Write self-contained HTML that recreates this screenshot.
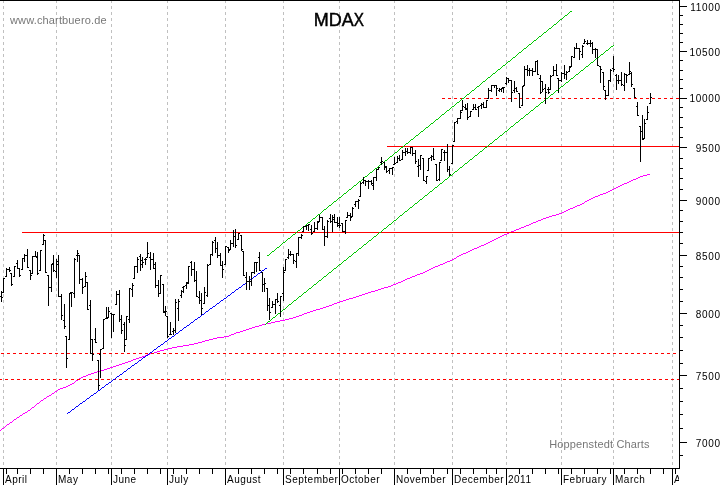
<!DOCTYPE html>
<html><head><meta charset="utf-8"><title>MDAX</title>
<style>
html,body{margin:0;padding:0;background:#fff;}
body{width:723px;height:485px;overflow:hidden;}
svg{display:block;will-change:transform;}
.ax{font-family:"Liberation Sans",Arial,sans-serif;font-size:10px;fill:#000;letter-spacing:0.7px;}
.mo{letter-spacing:0.5px;}
.gr{font-family:"Liberation Sans",Arial,sans-serif;font-size:11px;fill:#777;letter-spacing:0.15px;}
.ti{font-family:"Liberation Sans",Arial,sans-serif;font-size:18px;fill:#000;stroke:#000;stroke-width:0.45px;}
</style></head><body>
<svg width="723" height="485" viewBox="0 0 723 485">
<defs><clipPath id="cx"><rect x="0" y="0" width="679" height="485"/></clipPath></defs>
<rect x="0" y="0" width="723" height="485" fill="#fff"/>
<g shape-rendering="crispEdges">
<path d="M3 0h1v3h-1z M3 6h1v3h-1z M3 12h1v3h-1z M3 18h1v3h-1z M3 24h1v3h-1z M3 30h1v3h-1z M3 36h1v3h-1z M3 42h1v3h-1z M3 48h1v3h-1z M3 54h1v3h-1z M3 60h1v3h-1z M3 66h1v3h-1z M3 72h1v3h-1z M3 78h1v3h-1z M3 84h1v3h-1z M3 90h1v3h-1z M3 96h1v3h-1z M3 102h1v3h-1z M3 108h1v3h-1z M3 114h1v3h-1z M3 120h1v3h-1z M3 126h1v3h-1z M3 132h1v3h-1z M3 138h1v3h-1z M3 144h1v3h-1z M3 150h1v3h-1z M3 156h1v3h-1z M3 162h1v3h-1z M3 168h1v3h-1z M3 174h1v3h-1z M3 180h1v3h-1z M3 186h1v3h-1z M3 192h1v3h-1z M3 198h1v3h-1z M3 204h1v3h-1z M3 210h1v3h-1z M3 216h1v3h-1z M3 222h1v3h-1z M3 228h1v3h-1z M3 234h1v3h-1z M3 240h1v3h-1z M3 246h1v3h-1z M3 252h1v3h-1z M3 258h1v3h-1z M3 264h1v3h-1z M3 270h1v3h-1z M3 276h1v3h-1z M3 282h1v3h-1z M3 288h1v3h-1z M3 294h1v3h-1z M3 300h1v3h-1z M3 306h1v3h-1z M3 312h1v3h-1z M3 318h1v3h-1z M3 324h1v3h-1z M3 330h1v3h-1z M3 336h1v3h-1z M3 342h1v3h-1z M3 348h1v3h-1z M3 354h1v3h-1z M3 360h1v3h-1z M3 366h1v3h-1z M3 372h1v3h-1z M3 378h1v3h-1z M3 384h1v3h-1z M3 390h1v3h-1z M3 396h1v3h-1z M3 402h1v3h-1z M3 408h1v3h-1z M3 414h1v3h-1z M3 420h1v3h-1z M3 426h1v3h-1z M3 432h1v3h-1z M3 438h1v3h-1z M3 444h1v3h-1z M3 450h1v3h-1z M3 456h1v3h-1z M3 462h1v3h-1z" fill="#c0c0c0"/>
<path d="M56 0h1v3h-1z M56 6h1v3h-1z M56 12h1v3h-1z M56 18h1v3h-1z M56 24h1v3h-1z M56 30h1v3h-1z M56 36h1v3h-1z M56 42h1v3h-1z M56 48h1v3h-1z M56 54h1v3h-1z M56 60h1v3h-1z M56 66h1v3h-1z M56 72h1v3h-1z M56 78h1v3h-1z M56 84h1v3h-1z M56 90h1v3h-1z M56 96h1v3h-1z M56 102h1v3h-1z M56 108h1v3h-1z M56 114h1v3h-1z M56 120h1v3h-1z M56 126h1v3h-1z M56 132h1v3h-1z M56 138h1v3h-1z M56 144h1v3h-1z M56 150h1v3h-1z M56 156h1v3h-1z M56 162h1v3h-1z M56 168h1v3h-1z M56 174h1v3h-1z M56 180h1v3h-1z M56 186h1v3h-1z M56 192h1v3h-1z M56 198h1v3h-1z M56 204h1v3h-1z M56 210h1v3h-1z M56 216h1v3h-1z M56 222h1v3h-1z M56 228h1v3h-1z M56 234h1v3h-1z M56 240h1v3h-1z M56 246h1v3h-1z M56 252h1v3h-1z M56 258h1v3h-1z M56 264h1v3h-1z M56 270h1v3h-1z M56 276h1v3h-1z M56 282h1v3h-1z M56 288h1v3h-1z M56 294h1v3h-1z M56 300h1v3h-1z M56 306h1v3h-1z M56 312h1v3h-1z M56 318h1v3h-1z M56 324h1v3h-1z M56 330h1v3h-1z M56 336h1v3h-1z M56 342h1v3h-1z M56 348h1v3h-1z M56 354h1v3h-1z M56 360h1v3h-1z M56 366h1v3h-1z M56 372h1v3h-1z M56 378h1v3h-1z M56 384h1v3h-1z M56 390h1v3h-1z M56 396h1v3h-1z M56 402h1v3h-1z M56 408h1v3h-1z M56 414h1v3h-1z M56 420h1v3h-1z M56 426h1v3h-1z M56 432h1v3h-1z M56 438h1v3h-1z M56 444h1v3h-1z M56 450h1v3h-1z M56 456h1v3h-1z M56 462h1v3h-1z" fill="#c0c0c0"/>
<path d="M111 0h1v3h-1z M111 6h1v3h-1z M111 12h1v3h-1z M111 18h1v3h-1z M111 24h1v3h-1z M111 30h1v3h-1z M111 36h1v3h-1z M111 42h1v3h-1z M111 48h1v3h-1z M111 54h1v3h-1z M111 60h1v3h-1z M111 66h1v3h-1z M111 72h1v3h-1z M111 78h1v3h-1z M111 84h1v3h-1z M111 90h1v3h-1z M111 96h1v3h-1z M111 102h1v3h-1z M111 108h1v3h-1z M111 114h1v3h-1z M111 120h1v3h-1z M111 126h1v3h-1z M111 132h1v3h-1z M111 138h1v3h-1z M111 144h1v3h-1z M111 150h1v3h-1z M111 156h1v3h-1z M111 162h1v3h-1z M111 168h1v3h-1z M111 174h1v3h-1z M111 180h1v3h-1z M111 186h1v3h-1z M111 192h1v3h-1z M111 198h1v3h-1z M111 204h1v3h-1z M111 210h1v3h-1z M111 216h1v3h-1z M111 222h1v3h-1z M111 228h1v3h-1z M111 234h1v3h-1z M111 240h1v3h-1z M111 246h1v3h-1z M111 252h1v3h-1z M111 258h1v3h-1z M111 264h1v3h-1z M111 270h1v3h-1z M111 276h1v3h-1z M111 282h1v3h-1z M111 288h1v3h-1z M111 294h1v3h-1z M111 300h1v3h-1z M111 306h1v3h-1z M111 312h1v3h-1z M111 318h1v3h-1z M111 324h1v3h-1z M111 330h1v3h-1z M111 336h1v3h-1z M111 342h1v3h-1z M111 348h1v3h-1z M111 354h1v3h-1z M111 360h1v3h-1z M111 366h1v3h-1z M111 372h1v3h-1z M111 378h1v3h-1z M111 384h1v3h-1z M111 390h1v3h-1z M111 396h1v3h-1z M111 402h1v3h-1z M111 408h1v3h-1z M111 414h1v3h-1z M111 420h1v3h-1z M111 426h1v3h-1z M111 432h1v3h-1z M111 438h1v3h-1z M111 444h1v3h-1z M111 450h1v3h-1z M111 456h1v3h-1z M111 462h1v3h-1z" fill="#c0c0c0"/>
<path d="M167 0h1v3h-1z M167 6h1v3h-1z M167 12h1v3h-1z M167 18h1v3h-1z M167 24h1v3h-1z M167 30h1v3h-1z M167 36h1v3h-1z M167 42h1v3h-1z M167 48h1v3h-1z M167 54h1v3h-1z M167 60h1v3h-1z M167 66h1v3h-1z M167 72h1v3h-1z M167 78h1v3h-1z M167 84h1v3h-1z M167 90h1v3h-1z M167 96h1v3h-1z M167 102h1v3h-1z M167 108h1v3h-1z M167 114h1v3h-1z M167 120h1v3h-1z M167 126h1v3h-1z M167 132h1v3h-1z M167 138h1v3h-1z M167 144h1v3h-1z M167 150h1v3h-1z M167 156h1v3h-1z M167 162h1v3h-1z M167 168h1v3h-1z M167 174h1v3h-1z M167 180h1v3h-1z M167 186h1v3h-1z M167 192h1v3h-1z M167 198h1v3h-1z M167 204h1v3h-1z M167 210h1v3h-1z M167 216h1v3h-1z M167 222h1v3h-1z M167 228h1v3h-1z M167 234h1v3h-1z M167 240h1v3h-1z M167 246h1v3h-1z M167 252h1v3h-1z M167 258h1v3h-1z M167 264h1v3h-1z M167 270h1v3h-1z M167 276h1v3h-1z M167 282h1v3h-1z M167 288h1v3h-1z M167 294h1v3h-1z M167 300h1v3h-1z M167 306h1v3h-1z M167 312h1v3h-1z M167 318h1v3h-1z M167 324h1v3h-1z M167 330h1v3h-1z M167 336h1v3h-1z M167 342h1v3h-1z M167 348h1v3h-1z M167 354h1v3h-1z M167 360h1v3h-1z M167 366h1v3h-1z M167 372h1v3h-1z M167 378h1v3h-1z M167 384h1v3h-1z M167 390h1v3h-1z M167 396h1v3h-1z M167 402h1v3h-1z M167 408h1v3h-1z M167 414h1v3h-1z M167 420h1v3h-1z M167 426h1v3h-1z M167 432h1v3h-1z M167 438h1v3h-1z M167 444h1v3h-1z M167 450h1v3h-1z M167 456h1v3h-1z M167 462h1v3h-1z" fill="#c0c0c0"/>
<path d="M225 0h1v3h-1z M225 6h1v3h-1z M225 12h1v3h-1z M225 18h1v3h-1z M225 24h1v3h-1z M225 30h1v3h-1z M225 36h1v3h-1z M225 42h1v3h-1z M225 48h1v3h-1z M225 54h1v3h-1z M225 60h1v3h-1z M225 66h1v3h-1z M225 72h1v3h-1z M225 78h1v3h-1z M225 84h1v3h-1z M225 90h1v3h-1z M225 96h1v3h-1z M225 102h1v3h-1z M225 108h1v3h-1z M225 114h1v3h-1z M225 120h1v3h-1z M225 126h1v3h-1z M225 132h1v3h-1z M225 138h1v3h-1z M225 144h1v3h-1z M225 150h1v3h-1z M225 156h1v3h-1z M225 162h1v3h-1z M225 168h1v3h-1z M225 174h1v3h-1z M225 180h1v3h-1z M225 186h1v3h-1z M225 192h1v3h-1z M225 198h1v3h-1z M225 204h1v3h-1z M225 210h1v3h-1z M225 216h1v3h-1z M225 222h1v3h-1z M225 228h1v3h-1z M225 234h1v3h-1z M225 240h1v3h-1z M225 246h1v3h-1z M225 252h1v3h-1z M225 258h1v3h-1z M225 264h1v3h-1z M225 270h1v3h-1z M225 276h1v3h-1z M225 282h1v3h-1z M225 288h1v3h-1z M225 294h1v3h-1z M225 300h1v3h-1z M225 306h1v3h-1z M225 312h1v3h-1z M225 318h1v3h-1z M225 324h1v3h-1z M225 330h1v3h-1z M225 336h1v3h-1z M225 342h1v3h-1z M225 348h1v3h-1z M225 354h1v3h-1z M225 360h1v3h-1z M225 366h1v3h-1z M225 372h1v3h-1z M225 378h1v3h-1z M225 384h1v3h-1z M225 390h1v3h-1z M225 396h1v3h-1z M225 402h1v3h-1z M225 408h1v3h-1z M225 414h1v3h-1z M225 420h1v3h-1z M225 426h1v3h-1z M225 432h1v3h-1z M225 438h1v3h-1z M225 444h1v3h-1z M225 450h1v3h-1z M225 456h1v3h-1z M225 462h1v3h-1z" fill="#c0c0c0"/>
<path d="M283 0h1v3h-1z M283 6h1v3h-1z M283 12h1v3h-1z M283 18h1v3h-1z M283 24h1v3h-1z M283 30h1v3h-1z M283 36h1v3h-1z M283 42h1v3h-1z M283 48h1v3h-1z M283 54h1v3h-1z M283 60h1v3h-1z M283 66h1v3h-1z M283 72h1v3h-1z M283 78h1v3h-1z M283 84h1v3h-1z M283 90h1v3h-1z M283 96h1v3h-1z M283 102h1v3h-1z M283 108h1v3h-1z M283 114h1v3h-1z M283 120h1v3h-1z M283 126h1v3h-1z M283 132h1v3h-1z M283 138h1v3h-1z M283 144h1v3h-1z M283 150h1v3h-1z M283 156h1v3h-1z M283 162h1v3h-1z M283 168h1v3h-1z M283 174h1v3h-1z M283 180h1v3h-1z M283 186h1v3h-1z M283 192h1v3h-1z M283 198h1v3h-1z M283 204h1v3h-1z M283 210h1v3h-1z M283 216h1v3h-1z M283 222h1v3h-1z M283 228h1v3h-1z M283 234h1v3h-1z M283 240h1v3h-1z M283 246h1v3h-1z M283 252h1v3h-1z M283 258h1v3h-1z M283 264h1v3h-1z M283 270h1v3h-1z M283 276h1v3h-1z M283 282h1v3h-1z M283 288h1v3h-1z M283 294h1v3h-1z M283 300h1v3h-1z M283 306h1v3h-1z M283 312h1v3h-1z M283 318h1v3h-1z M283 324h1v3h-1z M283 330h1v3h-1z M283 336h1v3h-1z M283 342h1v3h-1z M283 348h1v3h-1z M283 354h1v3h-1z M283 360h1v3h-1z M283 366h1v3h-1z M283 372h1v3h-1z M283 378h1v3h-1z M283 384h1v3h-1z M283 390h1v3h-1z M283 396h1v3h-1z M283 402h1v3h-1z M283 408h1v3h-1z M283 414h1v3h-1z M283 420h1v3h-1z M283 426h1v3h-1z M283 432h1v3h-1z M283 438h1v3h-1z M283 444h1v3h-1z M283 450h1v3h-1z M283 456h1v3h-1z M283 462h1v3h-1z" fill="#c0c0c0"/>
<path d="M339 0h1v3h-1z M339 6h1v3h-1z M339 12h1v3h-1z M339 18h1v3h-1z M339 24h1v3h-1z M339 30h1v3h-1z M339 36h1v3h-1z M339 42h1v3h-1z M339 48h1v3h-1z M339 54h1v3h-1z M339 60h1v3h-1z M339 66h1v3h-1z M339 72h1v3h-1z M339 78h1v3h-1z M339 84h1v3h-1z M339 90h1v3h-1z M339 96h1v3h-1z M339 102h1v3h-1z M339 108h1v3h-1z M339 114h1v3h-1z M339 120h1v3h-1z M339 126h1v3h-1z M339 132h1v3h-1z M339 138h1v3h-1z M339 144h1v3h-1z M339 150h1v3h-1z M339 156h1v3h-1z M339 162h1v3h-1z M339 168h1v3h-1z M339 174h1v3h-1z M339 180h1v3h-1z M339 186h1v3h-1z M339 192h1v3h-1z M339 198h1v3h-1z M339 204h1v3h-1z M339 210h1v3h-1z M339 216h1v3h-1z M339 222h1v3h-1z M339 228h1v3h-1z M339 234h1v3h-1z M339 240h1v3h-1z M339 246h1v3h-1z M339 252h1v3h-1z M339 258h1v3h-1z M339 264h1v3h-1z M339 270h1v3h-1z M339 276h1v3h-1z M339 282h1v3h-1z M339 288h1v3h-1z M339 294h1v3h-1z M339 300h1v3h-1z M339 306h1v3h-1z M339 312h1v3h-1z M339 318h1v3h-1z M339 324h1v3h-1z M339 330h1v3h-1z M339 336h1v3h-1z M339 342h1v3h-1z M339 348h1v3h-1z M339 354h1v3h-1z M339 360h1v3h-1z M339 366h1v3h-1z M339 372h1v3h-1z M339 378h1v3h-1z M339 384h1v3h-1z M339 390h1v3h-1z M339 396h1v3h-1z M339 402h1v3h-1z M339 408h1v3h-1z M339 414h1v3h-1z M339 420h1v3h-1z M339 426h1v3h-1z M339 432h1v3h-1z M339 438h1v3h-1z M339 444h1v3h-1z M339 450h1v3h-1z M339 456h1v3h-1z M339 462h1v3h-1z" fill="#c0c0c0"/>
<path d="M394 0h1v3h-1z M394 6h1v3h-1z M394 12h1v3h-1z M394 18h1v3h-1z M394 24h1v3h-1z M394 30h1v3h-1z M394 36h1v3h-1z M394 42h1v3h-1z M394 48h1v3h-1z M394 54h1v3h-1z M394 60h1v3h-1z M394 66h1v3h-1z M394 72h1v3h-1z M394 78h1v3h-1z M394 84h1v3h-1z M394 90h1v3h-1z M394 96h1v3h-1z M394 102h1v3h-1z M394 108h1v3h-1z M394 114h1v3h-1z M394 120h1v3h-1z M394 126h1v3h-1z M394 132h1v3h-1z M394 138h1v3h-1z M394 144h1v3h-1z M394 150h1v3h-1z M394 156h1v3h-1z M394 162h1v3h-1z M394 168h1v3h-1z M394 174h1v3h-1z M394 180h1v3h-1z M394 186h1v3h-1z M394 192h1v3h-1z M394 198h1v3h-1z M394 204h1v3h-1z M394 210h1v3h-1z M394 216h1v3h-1z M394 222h1v3h-1z M394 228h1v3h-1z M394 234h1v3h-1z M394 240h1v3h-1z M394 246h1v3h-1z M394 252h1v3h-1z M394 258h1v3h-1z M394 264h1v3h-1z M394 270h1v3h-1z M394 276h1v3h-1z M394 282h1v3h-1z M394 288h1v3h-1z M394 294h1v3h-1z M394 300h1v3h-1z M394 306h1v3h-1z M394 312h1v3h-1z M394 318h1v3h-1z M394 324h1v3h-1z M394 330h1v3h-1z M394 336h1v3h-1z M394 342h1v3h-1z M394 348h1v3h-1z M394 354h1v3h-1z M394 360h1v3h-1z M394 366h1v3h-1z M394 372h1v3h-1z M394 378h1v3h-1z M394 384h1v3h-1z M394 390h1v3h-1z M394 396h1v3h-1z M394 402h1v3h-1z M394 408h1v3h-1z M394 414h1v3h-1z M394 420h1v3h-1z M394 426h1v3h-1z M394 432h1v3h-1z M394 438h1v3h-1z M394 444h1v3h-1z M394 450h1v3h-1z M394 456h1v3h-1z M394 462h1v3h-1z" fill="#c0c0c0"/>
<path d="M452 0h1v3h-1z M452 6h1v3h-1z M452 12h1v3h-1z M452 18h1v3h-1z M452 24h1v3h-1z M452 30h1v3h-1z M452 36h1v3h-1z M452 42h1v3h-1z M452 48h1v3h-1z M452 54h1v3h-1z M452 60h1v3h-1z M452 66h1v3h-1z M452 72h1v3h-1z M452 78h1v3h-1z M452 84h1v3h-1z M452 90h1v3h-1z M452 96h1v3h-1z M452 102h1v3h-1z M452 108h1v3h-1z M452 114h1v3h-1z M452 120h1v3h-1z M452 126h1v3h-1z M452 132h1v3h-1z M452 138h1v3h-1z M452 144h1v3h-1z M452 150h1v3h-1z M452 156h1v3h-1z M452 162h1v3h-1z M452 168h1v3h-1z M452 174h1v3h-1z M452 180h1v3h-1z M452 186h1v3h-1z M452 192h1v3h-1z M452 198h1v3h-1z M452 204h1v3h-1z M452 210h1v3h-1z M452 216h1v3h-1z M452 222h1v3h-1z M452 228h1v3h-1z M452 234h1v3h-1z M452 240h1v3h-1z M452 246h1v3h-1z M452 252h1v3h-1z M452 258h1v3h-1z M452 264h1v3h-1z M452 270h1v3h-1z M452 276h1v3h-1z M452 282h1v3h-1z M452 288h1v3h-1z M452 294h1v3h-1z M452 300h1v3h-1z M452 306h1v3h-1z M452 312h1v3h-1z M452 318h1v3h-1z M452 324h1v3h-1z M452 330h1v3h-1z M452 336h1v3h-1z M452 342h1v3h-1z M452 348h1v3h-1z M452 354h1v3h-1z M452 360h1v3h-1z M452 366h1v3h-1z M452 372h1v3h-1z M452 378h1v3h-1z M452 384h1v3h-1z M452 390h1v3h-1z M452 396h1v3h-1z M452 402h1v3h-1z M452 408h1v3h-1z M452 414h1v3h-1z M452 420h1v3h-1z M452 426h1v3h-1z M452 432h1v3h-1z M452 438h1v3h-1z M452 444h1v3h-1z M452 450h1v3h-1z M452 456h1v3h-1z M452 462h1v3h-1z" fill="#c0c0c0"/>
<path d="M506 0h1v3h-1z M506 6h1v3h-1z M506 12h1v3h-1z M506 18h1v3h-1z M506 24h1v3h-1z M506 30h1v3h-1z M506 36h1v3h-1z M506 42h1v3h-1z M506 48h1v3h-1z M506 54h1v3h-1z M506 60h1v3h-1z M506 66h1v3h-1z M506 72h1v3h-1z M506 78h1v3h-1z M506 84h1v3h-1z M506 90h1v3h-1z M506 96h1v3h-1z M506 102h1v3h-1z M506 108h1v3h-1z M506 114h1v3h-1z M506 120h1v3h-1z M506 126h1v3h-1z M506 132h1v3h-1z M506 138h1v3h-1z M506 144h1v3h-1z M506 150h1v3h-1z M506 156h1v3h-1z M506 162h1v3h-1z M506 168h1v3h-1z M506 174h1v3h-1z M506 180h1v3h-1z M506 186h1v3h-1z M506 192h1v3h-1z M506 198h1v3h-1z M506 204h1v3h-1z M506 210h1v3h-1z M506 216h1v3h-1z M506 222h1v3h-1z M506 228h1v3h-1z M506 234h1v3h-1z M506 240h1v3h-1z M506 246h1v3h-1z M506 252h1v3h-1z M506 258h1v3h-1z M506 264h1v3h-1z M506 270h1v3h-1z M506 276h1v3h-1z M506 282h1v3h-1z M506 288h1v3h-1z M506 294h1v3h-1z M506 300h1v3h-1z M506 306h1v3h-1z M506 312h1v3h-1z M506 318h1v3h-1z M506 324h1v3h-1z M506 330h1v3h-1z M506 336h1v3h-1z M506 342h1v3h-1z M506 348h1v3h-1z M506 354h1v3h-1z M506 360h1v3h-1z M506 366h1v3h-1z M506 372h1v3h-1z M506 378h1v3h-1z M506 384h1v3h-1z M506 390h1v3h-1z M506 396h1v3h-1z M506 402h1v3h-1z M506 408h1v3h-1z M506 414h1v3h-1z M506 420h1v3h-1z M506 426h1v3h-1z M506 432h1v3h-1z M506 438h1v3h-1z M506 444h1v3h-1z M506 450h1v3h-1z M506 456h1v3h-1z M506 462h1v3h-1z" fill="#c0c0c0"/>
<path d="M561 0h1v3h-1z M561 6h1v3h-1z M561 12h1v3h-1z M561 18h1v3h-1z M561 24h1v3h-1z M561 30h1v3h-1z M561 36h1v3h-1z M561 42h1v3h-1z M561 48h1v3h-1z M561 54h1v3h-1z M561 60h1v3h-1z M561 66h1v3h-1z M561 72h1v3h-1z M561 78h1v3h-1z M561 84h1v3h-1z M561 90h1v3h-1z M561 96h1v3h-1z M561 102h1v3h-1z M561 108h1v3h-1z M561 114h1v3h-1z M561 120h1v3h-1z M561 126h1v3h-1z M561 132h1v3h-1z M561 138h1v3h-1z M561 144h1v3h-1z M561 150h1v3h-1z M561 156h1v3h-1z M561 162h1v3h-1z M561 168h1v3h-1z M561 174h1v3h-1z M561 180h1v3h-1z M561 186h1v3h-1z M561 192h1v3h-1z M561 198h1v3h-1z M561 204h1v3h-1z M561 210h1v3h-1z M561 216h1v3h-1z M561 222h1v3h-1z M561 228h1v3h-1z M561 234h1v3h-1z M561 240h1v3h-1z M561 246h1v3h-1z M561 252h1v3h-1z M561 258h1v3h-1z M561 264h1v3h-1z M561 270h1v3h-1z M561 276h1v3h-1z M561 282h1v3h-1z M561 288h1v3h-1z M561 294h1v3h-1z M561 300h1v3h-1z M561 306h1v3h-1z M561 312h1v3h-1z M561 318h1v3h-1z M561 324h1v3h-1z M561 330h1v3h-1z M561 336h1v3h-1z M561 342h1v3h-1z M561 348h1v3h-1z M561 354h1v3h-1z M561 360h1v3h-1z M561 366h1v3h-1z M561 372h1v3h-1z M561 378h1v3h-1z M561 384h1v3h-1z M561 390h1v3h-1z M561 396h1v3h-1z M561 402h1v3h-1z M561 408h1v3h-1z M561 414h1v3h-1z M561 420h1v3h-1z M561 426h1v3h-1z M561 432h1v3h-1z M561 438h1v3h-1z M561 444h1v3h-1z M561 450h1v3h-1z M561 456h1v3h-1z M561 462h1v3h-1z" fill="#c0c0c0"/>
<path d="M613 0h1v3h-1z M613 6h1v3h-1z M613 12h1v3h-1z M613 18h1v3h-1z M613 24h1v3h-1z M613 30h1v3h-1z M613 36h1v3h-1z M613 42h1v3h-1z M613 48h1v3h-1z M613 54h1v3h-1z M613 60h1v3h-1z M613 66h1v3h-1z M613 72h1v3h-1z M613 78h1v3h-1z M613 84h1v3h-1z M613 90h1v3h-1z M613 96h1v3h-1z M613 102h1v3h-1z M613 108h1v3h-1z M613 114h1v3h-1z M613 120h1v3h-1z M613 126h1v3h-1z M613 132h1v3h-1z M613 138h1v3h-1z M613 144h1v3h-1z M613 150h1v3h-1z M613 156h1v3h-1z M613 162h1v3h-1z M613 168h1v3h-1z M613 174h1v3h-1z M613 180h1v3h-1z M613 186h1v3h-1z M613 192h1v3h-1z M613 198h1v3h-1z M613 204h1v3h-1z M613 210h1v3h-1z M613 216h1v3h-1z M613 222h1v3h-1z M613 228h1v3h-1z M613 234h1v3h-1z M613 240h1v3h-1z M613 246h1v3h-1z M613 252h1v3h-1z M613 258h1v3h-1z M613 264h1v3h-1z M613 270h1v3h-1z M613 276h1v3h-1z M613 282h1v3h-1z M613 288h1v3h-1z M613 294h1v3h-1z M613 300h1v3h-1z M613 306h1v3h-1z M613 312h1v3h-1z M613 318h1v3h-1z M613 324h1v3h-1z M613 330h1v3h-1z M613 336h1v3h-1z M613 342h1v3h-1z M613 348h1v3h-1z M613 354h1v3h-1z M613 360h1v3h-1z M613 366h1v3h-1z M613 372h1v3h-1z M613 378h1v3h-1z M613 384h1v3h-1z M613 390h1v3h-1z M613 396h1v3h-1z M613 402h1v3h-1z M613 408h1v3h-1z M613 414h1v3h-1z M613 420h1v3h-1z M613 426h1v3h-1z M613 432h1v3h-1z M613 438h1v3h-1z M613 444h1v3h-1z M613 450h1v3h-1z M613 456h1v3h-1z M613 462h1v3h-1z" fill="#c0c0c0"/>
<path d="M672 0h1v3h-1z M672 6h1v3h-1z M672 12h1v3h-1z M672 18h1v3h-1z M672 24h1v3h-1z M672 30h1v3h-1z M672 36h1v3h-1z M672 42h1v3h-1z M672 48h1v3h-1z M672 54h1v3h-1z M672 60h1v3h-1z M672 66h1v3h-1z M672 72h1v3h-1z M672 78h1v3h-1z M672 84h1v3h-1z M672 90h1v3h-1z M672 96h1v3h-1z M672 102h1v3h-1z M672 108h1v3h-1z M672 114h1v3h-1z M672 120h1v3h-1z M672 126h1v3h-1z M672 132h1v3h-1z M672 138h1v3h-1z M672 144h1v3h-1z M672 150h1v3h-1z M672 156h1v3h-1z M672 162h1v3h-1z M672 168h1v3h-1z M672 174h1v3h-1z M672 180h1v3h-1z M672 186h1v3h-1z M672 192h1v3h-1z M672 198h1v3h-1z M672 204h1v3h-1z M672 210h1v3h-1z M672 216h1v3h-1z M672 222h1v3h-1z M672 228h1v3h-1z M672 234h1v3h-1z M672 240h1v3h-1z M672 246h1v3h-1z M672 252h1v3h-1z M672 258h1v3h-1z M672 264h1v3h-1z M672 270h1v3h-1z M672 276h1v3h-1z M672 282h1v3h-1z M672 288h1v3h-1z M672 294h1v3h-1z M672 300h1v3h-1z M672 306h1v3h-1z M672 312h1v3h-1z M672 318h1v3h-1z M672 324h1v3h-1z M672 330h1v3h-1z M672 336h1v3h-1z M672 342h1v3h-1z M672 348h1v3h-1z M672 354h1v3h-1z M672 360h1v3h-1z M672 366h1v3h-1z M672 372h1v3h-1z M672 378h1v3h-1z M672 384h1v3h-1z M672 390h1v3h-1z M672 396h1v3h-1z M672 402h1v3h-1z M672 408h1v3h-1z M672 414h1v3h-1z M672 420h1v3h-1z M672 426h1v3h-1z M672 432h1v3h-1z M672 438h1v3h-1z M672 444h1v3h-1z M672 450h1v3h-1z M672 456h1v3h-1z M672 462h1v3h-1z" fill="#c0c0c0"/>
<path d="M30 409h1v1h-1z M304 313h3v1h-3z M556 214h3v1h-3z M595 196h3v1h-3z M490 241h2v1h-2z M349 298h4v1h-4z M456 257h1v1h-1z M524 226h2v1h-2z M243 330h3v1h-3z M88 374h3v1h-3z M459 255h2v1h-2z M384 287h4v1h-4z M533 222h3v1h-3z M133 359h3v1h-3z M452 259h2v1h-2z M79 378h2v1h-2z M494 239h2v1h-2z M145 355h2v1h-2z M316 309h4v1h-4z M420 273h3v1h-3z M562 212h2v1h-2z M606 192h2v1h-2z M275 321h5v1h-5z M340 301h3v1h-3z M391 285h2v1h-2z M570 208h3v1h-3z M94 372h3v1h-3z M202 341h3v1h-3z M168 348h4v1h-4z M52 393h2v1h-2z M10 422h2v1h-2z M427 270h2v1h-2z M470 250h2v1h-2z M44 398h2v1h-2z M514 230h2v1h-2z M435 266h3v1h-3z M37 403h2v1h-2z M22 414h1v1h-1z M620 185h2v1h-2z M229 335h2v1h-2z M57 390h1v1h-1z M14 419h2v1h-2z M255 326h4v1h-4z M2 428h2v1h-2z M49 395h2v1h-2z M172 347h5v1h-5z M209 339h4v1h-4z M591 198h2v1h-2z M280 320h5v1h-5z M447 261h3v1h-3z M486 243h2v1h-2z M189 344h5v1h-5z M647 174h3v1h-3z M582 203h2v1h-2z M157 351h3v1h-3z M329 305h3v1h-3z M636 178h2v1h-2z M83 376h3v1h-3z M72 383h2v1h-2z M552 215h4v1h-4z M128 361h3v1h-3z M262 324h4v1h-4z M107 368h3v1h-3z M362 294h3v1h-3z M417 274h3v1h-3z M183 345h6v1h-6z M76 380h2v1h-2z M631 180h2v1h-2z M139 357h3v1h-3z M68 385h2v1h-2z M504 234h3v1h-3z M289 318h4v1h-4z M600 194h3v1h-3z M536 221h2v1h-2z M198 342h4v1h-4z M164 349h4v1h-4z M334 303h3v1h-3z M113 366h3v1h-3z M224 336h5v1h-5z M423 272h2v1h-2z M531 223h2v1h-2z M252 327h3v1h-3z M466 252h2v1h-2z M41 400h2v1h-2z M509 232h2v1h-2z M573 207h2v1h-2z M616 187h2v1h-2z M546 217h3v1h-3z M246 329h3v1h-3z M375 290h3v1h-3z M516 229h3v1h-3z M612 189h2v1h-2z M443 263h2v1h-2z M481 245h3v1h-3z M125 362h3v1h-3z M577 205h3v1h-3z M63 387h3v1h-3z M323 307h3v1h-3z M302 314h2v1h-2z M403 280h2v1h-2z M100 370h4v1h-4z M477 247h2v1h-2z M412 276h3v1h-3z M521 227h3v1h-3z M627 182h2v1h-2z M381 288h3v1h-3z M236 332h4v1h-4z M500 236h2v1h-2z M217 337h7v1h-7z M131 360h2v1h-2z M407 278h3v1h-3z M313 310h3v1h-3z M559 213h3v1h-3z M598 195h2v1h-2z M454 258h2v1h-2z M81 377h2v1h-2z M496 238h2v1h-2z M359 295h3v1h-3z M271 322h4v1h-4z M526 225h3v1h-3z M91 373h3v1h-3z M346 299h3v1h-3z M603 193h3v1h-3z M393 284h3v1h-3z M285 319h4v1h-4z M296 316h3v1h-3z M205 340h4v1h-4z M147 354h3v1h-3z M320 308h3v1h-3z M511 231h3v1h-3z M608 191h2v1h-2z M438 265h2v1h-2z M23 413h2v1h-2z M119 364h3v1h-3z M55 391h2v1h-2z M58 389h2v1h-2z M97 371h3v1h-3z M259 325h3v1h-3z M16 418h1v1h-1z M1 429h1v1h-1z M47 396h2v1h-2z M142 356h3v1h-3z M398 282h3v1h-3z M28 410h2v1h-2z M293 317h3v1h-3z M614 188h2v1h-2z M5 426h1v1h-1z M593 197h2v1h-2z M326 306h3v1h-3z M231 334h3v1h-3z M74 382h1v1h-1z M266 323h5v1h-5z M589 199h2v1h-2z M307 312h3v1h-3z M450 260h2v1h-2z M78 379h1v1h-1z M492 240h2v1h-2z M70 384h2v1h-2z M643 175h4v1h-4z M337 302h3v1h-3z M388 286h3v1h-3z M365 293h3v1h-3z M116 365h3v1h-3z M638 177h2v1h-2z M463 253h3v1h-3z M507 233h2v1h-2z M543 218h3v1h-3z M20 415h2v1h-2z M177 346h6v1h-6z M343 300h3v1h-3z M566 210h2v1h-2z M32 407h2v1h-2z M249 328h3v1h-3z M371 291h4v1h-4z M610 190h2v1h-2z M36 404h1v1h-1z M580 204h2v1h-2z M154 352h3v1h-3z M431 268h2v1h-2z M549 216h3v1h-3z M104 369h3v1h-3z M410 277h2v1h-2z M479 246h2v1h-2z M519 228h2v1h-2z M585 201h2v1h-2z M624 183h3v1h-3z M445 262h2v1h-2z M488 242h2v1h-2z M299 315h3v1h-3z M629 181h2v1h-2z M66 386h2v1h-2z M213 338h4v1h-4z M194 343h4v1h-4z M150 353h4v1h-4z M160 350h4v1h-4z M310 311h3v1h-3z M440 264h3v1h-3z M356 296h3v1h-3z M110 367h3v1h-3z M633 179h3v1h-3z M529 224h2v1h-2z M640 176h3v1h-3z M461 254h2v1h-2z M396 283h2v1h-2z M474 248h3v1h-3z M122 363h3v1h-3z M378 289h3v1h-3z M234 333h2v1h-2z M60 388h3v1h-3z M587 200h2v1h-2z M240 331h3v1h-3z M368 292h3v1h-3z M541 219h2v1h-2z M457 256h2v1h-2z M568 209h2v1h-2z M34 406h1v1h-1z M433 267h2v1h-2z M7 424h2v1h-2z M27 411h1v1h-1z M19 416h1v1h-1z M622 184h2v1h-2z M353 297h3v1h-3z M136 358h3v1h-3z M564 211h2v1h-2z M86 375h2v1h-2z M502 235h2v1h-2z M429 269h2v1h-2z M472 249h2v1h-2z M46 397h1v1h-1z M575 206h2v1h-2z M332 304h2v1h-2z M415 275h2v1h-2z M498 237h2v1h-2z M425 271h2v1h-2z M538 220h3v1h-3z M9 423h1v1h-1z M40 401h1v1h-1z M405 279h2v1h-2z M25 412h2v1h-2z M484 244h2v1h-2z M75 381h1v1h-1z M13 420h1v1h-1z M17 417h2v1h-2z M401 281h2v1h-2z M6 425h1v1h-1z M54 392h1v1h-1z M0 430h1v1h-1z M31 408h1v1h-1z M4 427h1v1h-1z M35 405h1v1h-1z M584 202h1v1h-1z M468 251h2v1h-2z M618 186h2v1h-2z M39 402h1v1h-1z M51 394h1v1h-1z M12 421h1v1h-1z M43 399h1v1h-1z" fill="#ff00ff"/>
<rect x="22" y="232" width="657" height="1" fill="#ff0000"/>
<rect x="387" y="146" width="292" height="1" fill="#ff0000"/>
<path d="M442 98h3v1h-3z M448 98h3v1h-3z M454 98h3v1h-3z M460 98h3v1h-3z M466 98h3v1h-3z M472 98h3v1h-3z M478 98h3v1h-3z M484 98h3v1h-3z M490 98h3v1h-3z M496 98h3v1h-3z M502 98h3v1h-3z M508 98h3v1h-3z M514 98h3v1h-3z M520 98h3v1h-3z M526 98h3v1h-3z M532 98h3v1h-3z M538 98h3v1h-3z M544 98h3v1h-3z M550 98h3v1h-3z M556 98h3v1h-3z M562 98h3v1h-3z M568 98h3v1h-3z M574 98h3v1h-3z M580 98h3v1h-3z M586 98h3v1h-3z M592 98h3v1h-3z M598 98h3v1h-3z M604 98h3v1h-3z M610 98h3v1h-3z M616 98h3v1h-3z M622 98h3v1h-3z M628 98h3v1h-3z M634 98h3v1h-3z M640 98h3v1h-3z M646 98h3v1h-3z M652 98h3v1h-3z M658 98h3v1h-3z M664 98h3v1h-3z M670 98h3v1h-3z M676 98h3v1h-3z" fill="#ff0000"/>
<path d="M1 353h3v1h-3z M7 353h3v1h-3z M13 353h3v1h-3z M19 353h3v1h-3z M25 353h3v1h-3z M31 353h3v1h-3z M37 353h3v1h-3z M43 353h3v1h-3z M49 353h3v1h-3z M55 353h3v1h-3z M61 353h3v1h-3z M67 353h3v1h-3z M73 353h3v1h-3z M79 353h3v1h-3z M85 353h3v1h-3z M91 353h3v1h-3z M97 353h3v1h-3z M103 353h3v1h-3z M109 353h3v1h-3z M115 353h3v1h-3z M121 353h3v1h-3z M127 353h3v1h-3z M133 353h3v1h-3z M139 353h3v1h-3z M145 353h3v1h-3z M151 353h3v1h-3z M157 353h3v1h-3z M163 353h3v1h-3z M169 353h3v1h-3z M175 353h3v1h-3z M181 353h3v1h-3z M187 353h3v1h-3z M193 353h3v1h-3z M199 353h3v1h-3z M205 353h3v1h-3z M211 353h3v1h-3z M217 353h3v1h-3z M223 353h3v1h-3z M229 353h3v1h-3z M235 353h3v1h-3z M241 353h3v1h-3z M247 353h3v1h-3z M253 353h3v1h-3z M259 353h3v1h-3z M265 353h3v1h-3z M271 353h3v1h-3z M277 353h3v1h-3z M283 353h3v1h-3z M289 353h3v1h-3z M295 353h3v1h-3z M301 353h3v1h-3z M307 353h3v1h-3z M313 353h3v1h-3z M319 353h3v1h-3z M325 353h3v1h-3z M331 353h3v1h-3z M337 353h3v1h-3z M343 353h3v1h-3z M349 353h3v1h-3z M355 353h3v1h-3z M361 353h3v1h-3z M367 353h3v1h-3z M373 353h3v1h-3z M379 353h3v1h-3z M385 353h3v1h-3z M391 353h3v1h-3z M397 353h3v1h-3z M403 353h3v1h-3z M409 353h3v1h-3z M415 353h3v1h-3z M421 353h3v1h-3z M427 353h3v1h-3z M433 353h3v1h-3z M439 353h3v1h-3z M445 353h3v1h-3z M451 353h3v1h-3z M457 353h3v1h-3z M463 353h3v1h-3z M469 353h3v1h-3z M475 353h3v1h-3z M481 353h3v1h-3z M487 353h3v1h-3z M493 353h3v1h-3z M499 353h3v1h-3z M505 353h3v1h-3z M511 353h3v1h-3z M517 353h3v1h-3z M523 353h3v1h-3z M529 353h3v1h-3z M535 353h3v1h-3z M541 353h3v1h-3z M547 353h3v1h-3z M553 353h3v1h-3z M559 353h3v1h-3z M565 353h3v1h-3z M571 353h3v1h-3z M577 353h3v1h-3z M583 353h3v1h-3z M589 353h3v1h-3z M595 353h3v1h-3z M601 353h3v1h-3z M607 353h3v1h-3z M613 353h3v1h-3z M619 353h3v1h-3z M625 353h3v1h-3z M631 353h3v1h-3z M637 353h3v1h-3z M643 353h3v1h-3z M649 353h3v1h-3z M655 353h3v1h-3z M661 353h3v1h-3z M667 353h3v1h-3z M673 353h3v1h-3z" fill="#ff0000"/>
<path d="M-1 379h3v1h-3z M5 379h3v1h-3z M11 379h3v1h-3z M17 379h3v1h-3z M23 379h3v1h-3z M29 379h3v1h-3z M35 379h3v1h-3z M41 379h3v1h-3z M47 379h3v1h-3z M53 379h3v1h-3z M59 379h3v1h-3z M65 379h3v1h-3z M71 379h3v1h-3z M77 379h3v1h-3z M83 379h3v1h-3z M89 379h3v1h-3z M95 379h3v1h-3z M101 379h3v1h-3z M107 379h3v1h-3z M113 379h3v1h-3z M119 379h3v1h-3z M125 379h3v1h-3z M131 379h3v1h-3z M137 379h3v1h-3z M143 379h3v1h-3z M149 379h3v1h-3z M155 379h3v1h-3z M161 379h3v1h-3z M167 379h3v1h-3z M173 379h3v1h-3z M179 379h3v1h-3z M185 379h3v1h-3z M191 379h3v1h-3z M197 379h3v1h-3z M203 379h3v1h-3z M209 379h3v1h-3z M215 379h3v1h-3z M221 379h3v1h-3z M227 379h3v1h-3z M233 379h3v1h-3z M239 379h3v1h-3z M245 379h3v1h-3z M251 379h3v1h-3z M257 379h3v1h-3z M263 379h3v1h-3z M269 379h3v1h-3z M275 379h3v1h-3z M281 379h3v1h-3z M287 379h3v1h-3z M293 379h3v1h-3z M299 379h3v1h-3z M305 379h3v1h-3z M311 379h3v1h-3z M317 379h3v1h-3z M323 379h3v1h-3z M329 379h3v1h-3z M335 379h3v1h-3z M341 379h3v1h-3z M347 379h3v1h-3z M353 379h3v1h-3z M359 379h3v1h-3z M365 379h3v1h-3z M371 379h3v1h-3z M377 379h3v1h-3z M383 379h3v1h-3z M389 379h3v1h-3z M395 379h3v1h-3z M401 379h3v1h-3z M407 379h3v1h-3z M413 379h3v1h-3z M419 379h3v1h-3z M425 379h3v1h-3z M431 379h3v1h-3z M437 379h3v1h-3z M443 379h3v1h-3z M449 379h3v1h-3z M455 379h3v1h-3z M461 379h3v1h-3z M467 379h3v1h-3z M473 379h3v1h-3z M479 379h3v1h-3z M485 379h3v1h-3z M491 379h3v1h-3z M497 379h3v1h-3z M503 379h3v1h-3z M509 379h3v1h-3z M515 379h3v1h-3z M521 379h3v1h-3z M527 379h3v1h-3z M533 379h3v1h-3z M539 379h3v1h-3z M545 379h3v1h-3z M551 379h3v1h-3z M557 379h3v1h-3z M563 379h3v1h-3z M569 379h3v1h-3z M575 379h3v1h-3z M581 379h3v1h-3z M587 379h3v1h-3z M593 379h3v1h-3z M599 379h3v1h-3z M605 379h3v1h-3z M611 379h3v1h-3z M617 379h3v1h-3z M623 379h3v1h-3z M629 379h3v1h-3z M635 379h3v1h-3z M641 379h3v1h-3z M647 379h3v1h-3z M653 379h3v1h-3z M659 379h3v1h-3z M665 379h3v1h-3z M671 379h3v1h-3z M677 379h2v1h-2z" fill="#ff0000"/>
<path d="M487 78h1v1h-1z M411 139h2v1h-2z M492 74h1v1h-1z M395 152h2v1h-2z M476 87h1v1h-1z M323 210h1v1h-1z M324 209h2v1h-2z M329 205h2v1h-2z M313 218h2v1h-2z M297 231h1v1h-1z M565 15h2v1h-2z M548 29h1v1h-1z M490 76h1v1h-1z M553 25h1v1h-1z M474 89h1v1h-1z M554 24h2v1h-2z M538 37h1v1h-1z M480 84h1v1h-1z M462 98h2v1h-2z M543 33h1v1h-1z M327 207h1v1h-1z M464 97h1v1h-1z M311 220h1v1h-1z M312 219h1v1h-1z M375 168h2v1h-2z M317 215h1v1h-1z M301 228h1v1h-1z M552 26h1v1h-1z M536 39h1v1h-1z M477 86h2v1h-2z M541 35h1v1h-1z M558 21h1v1h-1z M542 34h1v1h-1z M467 94h2v1h-2z M310 221h1v1h-1z M373 170h1v1h-1z M315 217h1v1h-1z M390 156h2v1h-2z M531 43h1v1h-1z M298 230h2v1h-2z M379 165h1v1h-1z M300 229h1v1h-1z M363 178h1v1h-1z M305 225h1v1h-1z M368 174h1v1h-1z M539 36h2v1h-2z M529 44h2v1h-2z M452 106h2v1h-2z M377 167h1v1h-1z M457 102h2v1h-2z M378 166h1v1h-1z M361 180h1v1h-1z M383 162h1v1h-1z M365 176h2v1h-2z M425 128h1v1h-1z M367 175h1v1h-1z M441 115h1v1h-1z M442 114h2v1h-2z M351 188h1v1h-1z M447 110h2v1h-2z M519 52h2v1h-2z M380 164h2v1h-2z M440 116h1v1h-1z M503 65h2v1h-2z M445 112h1v1h-1z M508 61h2v1h-2z M429 125h1v1h-1z M370 172h2v1h-2z M293 234h2v1h-2z M493 73h2v1h-2z M354 185h2v1h-2z M277 247h2v1h-2z M418 134h1v1h-1z M282 243h1v1h-1z M267 255h2v1h-2z M272 251h2v1h-2z M426 127h2v1h-2z M507 62h1v1h-1z M491 75h1v1h-1z M433 122h1v1h-1z M496 71h1v1h-1z M513 57h2v1h-2z M416 135h2v1h-2z M339 197h2v1h-2z M281 244h1v1h-1z M344 193h2v1h-2z M421 131h2v1h-2z M497 70h1v1h-1z M328 206h1v1h-1z M270 253h1v1h-1z M560 19h2v1h-2z M334 201h2v1h-2z M318 214h2v1h-2z M506 63h1v1h-1z M569 12h1v1h-1z M511 59h1v1h-1z M570 11h2v1h-2z M495 72h1v1h-1z M479 85h1v1h-1z M559 20h1v1h-1z M483 81h2v1h-2z M406 143h2v1h-2z M485 80h1v1h-1z M269 254h1v1h-1z M332 203h1v1h-1z M564 16h1v1h-1z M333 202h1v1h-1z M316 216h1v1h-1z M338 198h1v1h-1z M321 212h1v1h-1z M322 211h1v1h-1z M557 22h1v1h-1z M498 69h2v1h-2z M562 18h1v1h-1z M563 17h1v1h-1z M546 31h1v1h-1z M410 140h1v1h-1z M547 30h1v1h-1z M331 204h1v1h-1z M394 153h1v1h-1z M336 200h1v1h-1z M320 213h1v1h-1z M400 148h1v1h-1z M303 226h2v1h-2z M326 208h1v1h-1z M308 222h2v1h-2z M384 161h1v1h-1z M544 32h2v1h-2z M549 28h2v1h-2z M551 27h1v1h-1z M456 103h1v1h-1z M398 150h1v1h-1z M382 163h1v1h-1z M446 111h1v1h-1z M388 158h1v1h-1z M451 107h1v1h-1z M372 171h1v1h-1z M283 242h2v1h-2z M461 99h1v1h-1z M444 113h1v1h-1z M385 160h2v1h-2z M466 95h1v1h-1z M524 48h2v1h-2z M450 108h1v1h-1z M434 121h1v1h-1z M439 117h1v1h-1z M287 239h1v1h-1z M288 238h2v1h-2z M271 252h1v1h-1z M276 248h1v1h-1z M523 49h1v1h-1z M528 45h1v1h-1z M449 109h1v1h-1z M431 123h2v1h-2z M454 105h1v1h-1z M436 119h2v1h-2z M512 58h1v1h-1z M438 118h1v1h-1z M501 67h1v1h-1z M517 54h1v1h-1z M285 241h1v1h-1z M286 240h1v1h-1z M349 189h2v1h-2z M291 236h1v1h-1z M518 53h1v1h-1z M275 249h1v1h-1z M515 56h1v1h-1z M516 55h1v1h-1z M500 68h1v1h-1z M364 177h1v1h-1z M505 64h1v1h-1z M348 190h1v1h-1z M353 186h1v1h-1z M274 250h1v1h-1z M337 199h1v1h-1z M279 246h1v1h-1z M488 77h2v1h-2z M401 147h2v1h-2z M343 194h1v1h-1z M534 40h2v1h-2z M567 14h1v1h-1z M568 13h1v1h-1z M352 187h1v1h-1z M415 136h1v1h-1z M399 149h1v1h-1z M341 196h1v1h-1z M405 144h1v1h-1z M389 157h1v1h-1z M419 133h1v1h-1z M556 23h1v1h-1z M403 146h1v1h-1z M404 145h1v1h-1z M387 159h1v1h-1z M409 141h1v1h-1z M392 155h1v1h-1z M393 154h1v1h-1z M472 90h2v1h-2z M481 83h1v1h-1z M465 96h1v1h-1z M470 92h1v1h-1z M471 91h1v1h-1z M455 104h1v1h-1z M397 151h1v1h-1z M460 100h1v1h-1z M302 227h1v1h-1z M292 235h1v1h-1z M527 46h1v1h-1z M469 93h1v1h-1z M475 88h1v1h-1z M533 41h1v1h-1z M459 101h1v1h-1z M522 50h1v1h-1z M306 224h1v1h-1z M307 223h1v1h-1z M290 237h1v1h-1z M296 232h1v1h-1z M280 245h1v1h-1z M532 42h1v1h-1z M537 38h1v1h-1z M521 51h1v1h-1z M526 47h1v1h-1z M369 173h1v1h-1z M510 60h1v1h-1z M374 169h1v1h-1z M295 233h1v1h-1z M358 182h1v1h-1z M359 181h2v1h-2z M342 195h1v1h-1z M347 191h1v1h-1z M356 184h1v1h-1z M357 183h1v1h-1z M420 132h1v1h-1z M362 179h1v1h-1z M346 192h1v1h-1z M435 120h1v1h-1z M482 82h1v1h-1z M424 129h1v1h-1z M408 142h1v1h-1z M413 138h1v1h-1z M430 124h1v1h-1z M414 137h1v1h-1z M502 66h1v1h-1z M423 130h1v1h-1z M486 79h1v1h-1z M428 126h1v1h-1z" fill="#00c800"/>
<path d="M611 46h2v1h-2z M579 72h1v1h-1z M384 228h2v1h-2z M427 194h1v1h-1z M594 60h1v1h-1z M334 268h2v1h-2z M583 69h1v1h-1z M430 191h2v1h-2z M571 78h2v1h-2z M338 265h1v1h-1z M586 66h2v1h-2z M498 137h1v1h-1z M480 151h2v1h-2z M551 94h2v1h-2z M388 225h1v1h-1z M299 296h2v1h-2z M548 97h1v1h-1z M314 284h2v1h-2z M455 171h2v1h-2z M303 293h1v1h-1z M438 185h1v1h-1z M286 307h1v1h-1z M349 256h2v1h-2z M598 57h1v1h-1z M275 316h1v1h-1z M516 122h2v1h-2z M442 182h1v1h-1z M364 244h2v1h-2z M505 131h2v1h-2z M353 253h1v1h-1z M278 313h2v1h-2z M342 262h1v1h-1z M520 119h1v1h-1z M509 128h1v1h-1z M357 250h1v1h-1z M268 321h2v1h-2z M492 142h1v1h-1z M555 91h1v1h-1z M339 264h2v1h-2z M403 213h1v1h-1z M392 222h1v1h-1z M570 79h1v1h-1z M559 88h1v1h-1z M407 210h1v1h-1z M470 159h2v1h-2z M396 219h1v1h-1z M563 85h1v1h-1z M289 304h2v1h-2z M609 48h1v1h-1z M457 170h1v1h-1z M445 179h2v1h-2z M613 45h1v1h-1z M460 167h2v1h-2z M524 116h1v1h-1z M601 54h2v1h-2z M361 247h1v1h-1z M495 139h2v1h-2z M414 204h1v1h-1z M574 76h1v1h-1z M410 207h2v1h-2z M329 272h2v1h-2z M578 73h1v1h-1z M318 281h1v1h-1z M566 82h2v1h-2z M333 269h1v1h-1z M301 295h1v1h-1z M468 161h1v1h-1z M531 110h2v1h-2z M379 232h2v1h-2z M304 292h2v1h-2z M368 241h1v1h-1z M535 107h1v1h-1z M383 229h1v1h-1z M372 238h1v1h-1z M294 300h2v1h-2z M581 70h2v1h-2z M429 192h1v1h-1z M354 252h2v1h-2z M418 201h1v1h-1z M277 314h1v1h-1z M266 323h1v1h-1z M596 58h2v1h-2z M585 67h1v1h-1z M433 189h1v1h-1z M281 311h1v1h-1z M344 260h2v1h-2z M422 198h1v1h-1z M270 320h1v1h-1z M589 64h1v1h-1z M511 126h2v1h-2z M500 135h2v1h-2z M425 195h2v1h-2z M348 257h1v1h-1z M273 317h2v1h-2z M483 149h1v1h-1z M546 98h2v1h-2z M472 158h1v1h-1z M394 220h2v1h-2z M319 280h2v1h-2z M561 86h2v1h-2z M487 146h1v1h-1z M550 95h1v1h-1z M475 155h2v1h-2z M398 217h1v1h-1z M387 226h1v1h-1z M565 83h1v1h-1z M554 92h1v1h-1z M402 214h1v1h-1z M288 305h1v1h-1z M536 106h2v1h-2z M600 55h1v1h-1z M448 177h1v1h-1z M437 186h1v1h-1z M285 308h1v1h-1z M604 52h1v1h-1z M452 174h1v1h-1z M515 123h1v1h-1z M593 61h1v1h-1z M440 183h2v1h-2z M359 248h2v1h-2z M608 49h1v1h-1z M405 211h2v1h-2z M502 134h1v1h-1z M490 143h2v1h-2z M409 208h1v1h-1z M569 80h1v1h-1z M309 288h2v1h-2z M324 276h2v1h-2z M292 302h1v1h-1z M459 168h1v1h-1z M307 290h1v1h-1z M296 299h1v1h-1z M526 114h2v1h-2z M374 236h2v1h-2z M363 245h1v1h-1z M378 233h1v1h-1z M420 199h2v1h-2z M346 259h1v1h-1z M513 125h1v1h-1z M435 187h2v1h-2z M576 74h2v1h-2z M424 196h1v1h-1z M413 205h1v1h-1z M580 71h1v1h-1z M428 193h1v1h-1z M417 202h1v1h-1z M265 324h1v1h-1z M474 156h1v1h-1z M463 165h1v1h-1z M311 287h1v1h-1z M478 153h1v1h-1z M541 102h2v1h-2z M467 162h1v1h-1z M545 99h1v1h-1z M528 113h1v1h-1z M591 62h2v1h-2z M595 59h1v1h-1z M272 318h1v1h-1z M432 190h1v1h-1z M599 56h1v1h-1z M485 147h2v1h-2z M322 278h1v1h-1z M482 150h1v1h-1z M400 215h2v1h-2z M326 275h1v1h-1z M389 224h2v1h-2z M556 90h2v1h-2z M404 212h1v1h-1z M283 309h2v1h-2z M539 104h1v1h-1z M450 175h2v1h-2z M376 235h1v1h-1z M298 297h1v1h-1z M439 184h1v1h-1z M287 306h1v1h-1z M276 315h1v1h-1z M606 50h2v1h-2z M454 172h1v1h-1z M443 181h1v1h-1z M291 303h1v1h-1z M280 312h1v1h-1z M610 47h1v1h-1z M369 240h2v1h-2z M489 144h1v1h-1z M337 266h1v1h-1z M504 132h1v1h-1z M352 254h1v1h-1z M415 203h2v1h-2z M493 141h1v1h-1z M341 263h1v1h-1z M497 138h1v1h-1z M419 200h1v1h-1z M560 87h1v1h-1z M408 209h1v1h-1z M575 75h1v1h-1z M423 197h1v1h-1z M543 101h1v1h-1z M465 163h2v1h-2z M391 223h1v1h-1z M302 294h1v1h-1z M558 89h1v1h-1z M469 160h1v1h-1z M458 169h1v1h-1z M306 291h1v1h-1z M473 157h1v1h-1z M462 166h1v1h-1z M519 120h1v1h-1z M508 129h1v1h-1z M356 251h1v1h-1z M523 117h1v1h-1z M590 63h1v1h-1z M267 322h1v1h-1z M573 77h1v1h-1z M313 285h1v1h-1z M317 282h1v1h-1z M477 154h1v1h-1z M530 111h1v1h-1z M367 242h1v1h-1z M371 239h1v1h-1z M434 188h1v1h-1z M293 301h1v1h-1z M282 310h1v1h-1z M271 319h1v1h-1z M449 176h1v1h-1z M328 273h1v1h-1z M584 68h1v1h-1z M484 148h1v1h-1z M332 270h1v1h-1z M321 279h1v1h-1z M499 136h1v1h-1z M488 145h1v1h-1z M336 267h1v1h-1z M399 216h1v1h-1z M534 108h1v1h-1z M382 230h1v1h-1z M549 96h1v1h-1z M538 105h1v1h-1z M386 227h1v1h-1z M605 51h1v1h-1z M453 173h1v1h-1z M588 65h1v1h-1z M603 53h1v1h-1z M343 261h1v1h-1z M503 133h1v1h-1z M507 130h1v1h-1z M393 221h1v1h-1z M553 93h1v1h-1z M397 218h1v1h-1z M308 289h1v1h-1z M297 298h1v1h-1z M464 164h1v1h-1z M312 286h1v1h-1z M521 118h2v1h-2z M447 178h1v1h-1z M510 127h1v1h-1z M358 249h1v1h-1z M347 258h1v1h-1z M525 115h1v1h-1z M514 124h1v1h-1z M362 246h1v1h-1z M351 255h1v1h-1z M518 121h1v1h-1z M564 84h1v1h-1z M412 206h1v1h-1z M323 277h1v1h-1z M568 81h1v1h-1z M479 152h1v1h-1z M327 274h1v1h-1z M316 283h1v1h-1z M494 140h1v1h-1z M331 271h1v1h-1z M373 237h1v1h-1z M540 103h1v1h-1z M529 112h1v1h-1z M377 234h1v1h-1z M366 243h1v1h-1z M544 100h1v1h-1z M533 109h1v1h-1z M381 231h1v1h-1z M444 180h1v1h-1z" fill="#00c800"/>
<path d="M85 400h1v1h-1z M265 268h2v1h-2z M221 300h2v1h-2z M76 406h2v1h-2z M252 278h1v1h-1z M257 274h1v1h-1z M258 273h2v1h-2z M232 292h2v1h-2z M234 291h1v1h-1z M219 302h1v1h-1z M89 397h1v1h-1z M256 275h1v1h-1z M262 270h2v1h-2z M200 316h1v1h-1z M70 411h1v1h-1z M201 315h1v1h-1z M186 326h1v1h-1z M236 289h2v1h-2z M223 299h1v1h-1z M224 298h2v1h-2z M167 340h1v1h-1z M260 272h1v1h-1z M198 317h2v1h-2z M204 313h1v1h-1z M205 312h1v1h-1z M190 323h1v1h-1z M191 322h2v1h-2z M227 296h1v1h-1z M165 341h2v1h-2z M171 337h1v1h-1z M157 347h1v1h-1z M202 314h2v1h-2z M158 346h2v1h-2z M143 357h2v1h-2z M189 324h1v1h-1z M194 320h1v1h-1z M132 365h2v1h-2z M138 361h1v1h-1z M124 371h2v1h-2z M169 338h2v1h-2z M156 348h1v1h-1z M161 344h2v1h-2z M100 389h1v1h-1z M105 385h1v1h-1z M135 363h2v1h-2z M91 395h2v1h-2z M137 362h1v1h-1z M122 373h1v1h-1z M123 372h1v1h-1z M128 368h2v1h-2z M67 413h1v1h-1z M160 345h1v1h-1z M102 387h2v1h-2z M104 386h1v1h-1z M90 396h1v1h-1z M126 370h1v1h-1z M127 369h1v1h-1z M71 410h1v1h-1z M238 288h1v1h-1z M108 383h1v1h-1z M93 394h1v1h-1z M94 393h2v1h-2z M80 403h2v1h-2z M261 271h1v1h-1z M68 412h2v1h-2z M75 407h1v1h-1z M250 279h2v1h-2z M242 285h1v1h-1z M228 295h2v1h-2z M264 269h1v1h-1z M72 409h2v1h-2z M209 309h1v1h-1z M254 276h2v1h-2z M239 287h2v1h-2z M195 319h2v1h-2z M241 286h1v1h-1z M246 282h1v1h-1z M231 293h1v1h-1z M176 333h2v1h-2z M206 311h2v1h-2z M208 310h1v1h-1z M193 321h1v1h-1z M213 306h2v1h-2z M243 284h2v1h-2z M187 325h2v1h-2z M174 335h1v1h-1z M175 334h1v1h-1z M180 330h2v1h-2z M210 308h2v1h-2z M197 318h1v1h-1z M154 349h2v1h-2z M141 359h1v1h-1z M142 358h1v1h-1z M172 336h2v1h-2z M178 332h1v1h-1z M179 331h1v1h-1z M164 342h1v1h-1z M109 382h2v1h-2z M139 360h2v1h-2z M145 356h1v1h-1z M146 355h2v1h-2z M83 401h2v1h-2z M131 366h1v1h-1z M120 374h2v1h-2z M168 339h1v1h-1z M106 384h2v1h-2z M112 380h1v1h-1z M113 379h2v1h-2z M98 390h2v1h-2z M87 398h2v1h-2z M74 408h1v1h-1z M79 404h1v1h-1z M111 381h1v1h-1z M247 281h2v1h-2z M97 391h1v1h-1z M78 405h1v1h-1z M245 283h1v1h-1z M115 378h1v1h-1z M101 388h1v1h-1z M226 297h1v1h-1z M212 307h1v1h-1z M82 402h1v1h-1z M249 280h1v1h-1z M235 290h1v1h-1z M230 294h1v1h-1z M216 304h1v1h-1z M217 303h2v1h-2z M253 277h1v1h-1z M183 328h1v1h-1z M184 327h2v1h-2z M215 305h1v1h-1z M220 301h1v1h-1z M150 352h2v1h-2z M182 329h1v1h-1z M117 376h2v1h-2z M163 343h1v1h-1z M148 354h1v1h-1z M149 353h1v1h-1z M130 367h1v1h-1z M116 377h1v1h-1z M152 351h1v1h-1z M153 350h1v1h-1z M96 392h1v1h-1z M134 364h1v1h-1z M119 375h1v1h-1z M86 399h1v1h-1z" fill="#0000ff"/>
<path d="M1 291h1v11h-1z M0 296h1v1h-1z M2 297h1v1h-1z M3 278h1v15h-1z M2 292h1v1h-1z M4 278h1v1h-1z M6 268h1v9h-1z M5 276h1v1h-1z M7 269h1v1h-1z M9 267h1v5h-1z M8 269h1v1h-1z M10 270h1v1h-1z M11 273h1v13h-1z M10 273h1v1h-1z M12 284h1v1h-1z M14 266h1v11h-1z M13 276h1v1h-1z M15 266h1v1h-1z M17 260h1v9h-1z M16 263h1v1h-1z M18 268h1v1h-1z M19 268h1v9h-1z M18 268h1v1h-1z M20 275h1v1h-1z M22 258h1v12h-1z M21 269h1v1h-1z M23 258h1v1h-1z M24 254h1v8h-1z M23 258h1v1h-1z M25 255h1v1h-1z M27 249h1v19h-1z M26 255h1v1h-1z M28 267h1v1h-1z M30 270h1v10h-1z M29 270h1v1h-1z M31 275h1v1h-1z M32 256h1v18h-1z M31 273h1v1h-1z M33 256h1v1h-1z M35 251h1v6h-1z M34 256h1v1h-1z M36 256h1v1h-1z M37 252h1v23h-1z M36 257h1v1h-1z M38 273h1v1h-1z M40 250h1v21h-1z M39 270h1v1h-1z M41 250h1v1h-1z M43 234h1v11h-1z M42 244h1v1h-1z M44 235h1v1h-1z M45 240h1v33h-1z M44 240h1v1h-1z M46 272h1v1h-1z M48 275h1v31h-1z M47 275h1v1h-1z M49 287h1v1h-1z M51 264h1v28h-1z M50 287h1v1h-1z M52 264h1v1h-1z M53 255h1v17h-1z M52 263h1v1h-1z M54 270h1v1h-1z M56 259h1v19h-1z M55 271h1v1h-1z M57 261h1v1h-1z M58 255h1v42h-1z M57 264h1v1h-1z M59 296h1v1h-1z M61 294h1v26h-1z M60 296h1v1h-1z M62 315h1v1h-1z M64 304h1v25h-1z M63 320h1v1h-1z M65 326h1v1h-1z M66 336h1v32h-1z M65 336h1v1h-1z M67 358h1v1h-1z M69 293h1v47h-1z M68 339h1v1h-1z M70 293h1v1h-1z M71 292h1v15h-1z M70 292h1v1h-1z M72 292h1v1h-1z M74 258h1v40h-1z M73 293h1v1h-1z M75 259h1v1h-1z M77 250h1v12h-1z M76 255h1v1h-1z M78 253h1v1h-1z M79 255h1v29h-1z M78 255h1v1h-1z M80 279h1v1h-1z M82 278h1v16h-1z M81 279h1v1h-1z M83 287h1v1h-1z M85 272h1v15h-1z M84 286h1v1h-1z M86 276h1v1h-1z M87 282h1v28h-1z M86 282h1v1h-1z M88 309h1v1h-1z M90 300h1v54h-1z M89 305h1v1h-1z M91 353h1v1h-1z M92 339h1v22h-1z M91 339h1v1h-1z M93 354h1v1h-1z M95 328h1v15h-1z M94 339h1v1h-1z M96 342h1v1h-1z M98 360h1v30h-1z M97 360h1v1h-1z M99 385h1v1h-1z M100 349h1v29h-1z M99 354h1v1h-1z M101 349h1v1h-1z M103 319h1v30h-1z M102 348h1v1h-1z M104 319h1v1h-1z M106 307h1v12h-1z M105 318h1v1h-1z M107 318h1v1h-1z M108 307h1v11h-1z M107 317h1v1h-1z M109 311h1v1h-1z M111 313h1v25h-1z M110 313h1v1h-1z M112 314h1v1h-1z M113 314h1v18h-1z M112 314h1v1h-1z M114 314h1v1h-1z M116 291h1v14h-1z M115 304h1v1h-1z M117 294h1v1h-1z M119 290h1v32h-1z M118 294h1v1h-1z M120 319h1v1h-1z M121 315h1v19h-1z M120 319h1v1h-1z M122 330h1v1h-1z M124 322h1v30h-1z M123 324h1v1h-1z M125 345h1v1h-1z M126 316h1v24h-1z M125 339h1v1h-1z M127 316h1v1h-1z M129 288h1v35h-1z M128 319h1v1h-1z M130 288h1v1h-1z M132 283h1v14h-1z M131 289h1v1h-1z M133 285h1v1h-1z M134 266h1v13h-1z M133 278h1v1h-1z M135 266h1v1h-1z M137 257h1v16h-1z M136 266h1v1h-1z M138 259h1v1h-1z M140 254h1v17h-1z M139 256h1v1h-1z M141 260h1v1h-1z M142 257h1v11h-1z M141 264h1v1h-1z M143 262h1v1h-1z M145 258h1v7h-1z M144 259h1v1h-1z M146 259h1v1h-1z M147 242h1v16h-1z M146 257h1v1h-1z M148 253h1v1h-1z M150 252h1v18h-1z M149 257h1v1h-1z M151 259h1v1h-1z M153 253h1v16h-1z M152 259h1v1h-1z M154 268h1v1h-1z M155 262h1v26h-1z M154 264h1v1h-1z M156 285h1v1h-1z M158 280h1v17h-1z M157 285h1v1h-1z M159 293h1v1h-1z M160 275h1v19h-1z M159 293h1v1h-1z M161 275h1v1h-1z M163 284h1v29h-1z M162 284h1v1h-1z M164 312h1v1h-1z M165 306h1v10h-1z M164 311h1v1h-1z M166 311h1v1h-1z M167 316h1v22h-1z M166 316h1v1h-1z M168 336h1v1h-1z M170 322h1v13h-1z M169 334h1v1h-1z M171 334h1v1h-1z M173 328h1v7h-1z M172 331h1v1h-1z M174 330h1v1h-1z M175 299h1v34h-1z M174 330h1v1h-1z M176 302h1v1h-1z M178 299h1v22h-1z M177 308h1v1h-1z M179 301h1v1h-1z M181 290h1v8h-1z M180 295h1v1h-1z M182 291h1v1h-1z M183 286h1v7h-1z M182 287h1v1h-1z M184 286h1v1h-1z M186 282h1v7h-1z M185 285h1v1h-1z M187 282h1v1h-1z M188 266h1v18h-1z M187 283h1v1h-1z M189 266h1v1h-1z M191 261h1v15h-1z M190 262h1v1h-1z M192 269h1v1h-1z M194 262h1v20h-1z M193 269h1v1h-1z M195 280h1v1h-1z M196 271h1v26h-1z M195 280h1v1h-1z M197 296h1v1h-1z M199 291h1v13h-1z M198 297h1v1h-1z M200 300h1v1h-1z M201 293h1v22h-1z M200 300h1v1h-1z M202 308h1v1h-1z M204 287h1v17h-1z M203 303h1v1h-1z M205 292h1v1h-1z M207 264h1v33h-1z M206 295h1v1h-1z M208 265h1v1h-1z M210 254h1v11h-1z M209 264h1v1h-1z M211 254h1v1h-1z M212 241h1v15h-1z M211 254h1v1h-1z M213 242h1v1h-1z M215 237h1v16h-1z M214 240h1v1h-1z M216 248h1v1h-1z M217 242h1v16h-1z M216 248h1v1h-1z M218 255h1v1h-1z M220 253h1v13h-1z M219 255h1v1h-1z M221 265h1v1h-1z M222 261h1v17h-1z M221 265h1v1h-1z M223 269h1v1h-1z M225 246h1v19h-1z M224 264h1v1h-1z M226 246h1v1h-1z M228 247h1v6h-1z M227 247h1v1h-1z M229 250h1v1h-1z M230 240h1v10h-1z M229 249h1v1h-1z M231 243h1v1h-1z M233 230h1v17h-1z M232 243h1v1h-1z M234 236h1v1h-1z M235 229h1v19h-1z M234 236h1v1h-1z M236 245h1v1h-1z M238 233h1v7h-1z M237 239h1v1h-1z M239 233h1v1h-1z M241 235h1v16h-1z M240 235h1v1h-1z M242 249h1v1h-1z M243 251h1v25h-1z M242 251h1v1h-1z M244 275h1v1h-1z M246 272h1v18h-1z M245 277h1v1h-1z M247 281h1v1h-1z M249 276h1v14h-1z M248 281h1v1h-1z M250 281h1v1h-1z M251 272h1v14h-1z M250 281h1v1h-1z M252 272h1v1h-1z M254 262h1v12h-1z M253 272h1v1h-1z M255 262h1v1h-1z M256 262h1v10h-1z M255 262h1v1h-1z M257 262h1v1h-1z M259 252h1v19h-1z M258 257h1v1h-1z M260 270h1v1h-1z M262 272h1v20h-1z M261 272h1v1h-1z M263 284h1v1h-1z M264 278h1v14h-1z M263 284h1v1h-1z M265 283h1v1h-1z M267 288h1v23h-1z M266 288h1v1h-1z M268 305h1v1h-1z M269 298h1v22h-1z M268 305h1v1h-1z M270 312h1v1h-1z M272 301h1v7h-1z M271 307h1v1h-1z M273 304h1v1h-1z M275 299h1v15h-1z M274 304h1v1h-1z M276 299h1v1h-1z M277 293h1v10h-1z M276 299h1v1h-1z M278 301h1v1h-1z M280 296h1v21h-1z M279 305h1v1h-1z M281 296h1v1h-1z M283 267h1v34h-1z M282 293h1v1h-1z M284 272h1v1h-1z M285 259h1v12h-1z M284 270h1v1h-1z M286 259h1v1h-1z M288 249h1v10h-1z M287 257h1v1h-1z M289 254h1v1h-1z M290 251h1v5h-1z M289 254h1v1h-1z M291 254h1v1h-1z M293 254h1v10h-1z M292 254h1v1h-1z M294 260h1v1h-1z M296 253h1v15h-1z M295 261h1v1h-1z M297 253h1v1h-1z M298 237h1v19h-1z M297 253h1v1h-1z M299 237h1v1h-1z M301 234h1v5h-1z M300 237h1v1h-1z M302 235h1v1h-1z M303 226h1v6h-1z M302 231h1v1h-1z M304 226h1v1h-1z M306 225h1v5h-1z M305 226h1v1h-1z M307 225h1v1h-1z M308 224h1v7h-1z M307 225h1v1h-1z M309 224h1v1h-1z M311 225h1v10h-1z M310 229h1v1h-1z M312 233h1v1h-1z M314 222h1v10h-1z M313 231h1v1h-1z M315 228h1v1h-1z M317 221h1v9h-1z M316 228h1v1h-1z M318 222h1v1h-1z M319 215h1v7h-1z M318 221h1v1h-1z M320 217h1v1h-1z M322 217h1v13h-1z M321 217h1v1h-1z M323 229h1v1h-1z M324 226h1v20h-1z M323 229h1v1h-1z M325 236h1v1h-1z M327 220h1v18h-1z M326 236h1v1h-1z M328 221h1v1h-1z M330 214h1v9h-1z M329 218h1v1h-1z M331 221h1v1h-1z M332 215h1v17h-1z M331 221h1v1h-1z M333 219h1v1h-1z M334 214h1v9h-1z M333 217h1v1h-1z M335 222h1v1h-1z M337 217h1v10h-1z M336 222h1v1h-1z M338 223h1v1h-1z M339 217h1v11h-1z M338 225h1v1h-1z M340 225h1v1h-1z M342 223h1v9h-1z M341 223h1v1h-1z M343 231h1v1h-1z M345 220h1v14h-1z M344 231h1v1h-1z M346 220h1v1h-1z M347 212h1v6h-1z M346 217h1v1h-1z M348 215h1v1h-1z M350 213h1v8h-1z M349 215h1v1h-1z M351 217h1v1h-1z M352 207h1v10h-1z M351 216h1v1h-1z M353 208h1v1h-1z M355 201h1v6h-1z M354 204h1v1h-1z M356 201h1v1h-1z M358 199h1v10h-1z M357 201h1v1h-1z M359 200h1v1h-1z M360 182h1v15h-1z M359 196h1v1h-1z M361 183h1v1h-1z M363 177h1v7h-1z M362 182h1v1h-1z M364 180h1v1h-1z M365 180h1v6h-1z M364 180h1v1h-1z M366 181h1v1h-1z M368 180h1v9h-1z M367 181h1v1h-1z M369 181h1v1h-1z M371 180h1v5h-1z M370 181h1v1h-1z M372 183h1v1h-1z M373 177h1v13h-1z M372 185h1v1h-1z M374 177h1v1h-1z M376 169h1v12h-1z M375 177h1v1h-1z M377 169h1v1h-1z M378 167h1v3h-1z M377 169h1v1h-1z M379 167h1v1h-1z M381 157h1v8h-1z M380 162h1v1h-1z M382 161h1v1h-1z M384 162h1v8h-1z M383 162h1v1h-1z M385 166h1v1h-1z M386 166h1v7h-1z M385 167h1v1h-1z M387 171h1v1h-1z M389 168h1v6h-1z M388 170h1v1h-1z M390 168h1v1h-1z M392 167h1v8h-1z M391 168h1v1h-1z M393 167h1v1h-1z M394 157h1v8h-1z M393 164h1v1h-1z M395 163h1v1h-1z M397 156h1v7h-1z M396 162h1v1h-1z M398 158h1v1h-1z M399 155h1v6h-1z M398 158h1v1h-1z M400 160h1v1h-1z M402 150h1v10h-1z M401 159h1v1h-1z M403 152h1v1h-1z M405 148h1v8h-1z M404 152h1v1h-1z M406 151h1v1h-1z M407 148h1v6h-1z M406 151h1v1h-1z M408 152h1v1h-1z M410 147h1v7h-1z M409 152h1v1h-1z M411 147h1v1h-1z M412 147h1v9h-1z M411 147h1v1h-1z M413 153h1v1h-1z M415 150h1v14h-1z M414 153h1v1h-1z M416 161h1v1h-1z M418 159h1v18h-1z M417 166h1v1h-1z M419 165h1v1h-1z M420 155h1v15h-1z M419 165h1v1h-1z M421 155h1v1h-1z M423 158h1v23h-1z M422 158h1v1h-1z M424 180h1v1h-1z M426 176h1v8h-1z M425 181h1v1h-1z M427 176h1v1h-1z M428 158h1v13h-1z M427 170h1v1h-1z M429 158h1v1h-1z M431 155h1v6h-1z M430 157h1v1h-1z M432 156h1v1h-1z M433 148h1v12h-1z M432 156h1v1h-1z M434 159h1v1h-1z M436 164h1v17h-1z M435 164h1v1h-1z M437 180h1v1h-1z M439 162h1v19h-1z M438 179h1v1h-1z M440 162h1v1h-1z M441 149h1v12h-1z M440 160h1v1h-1z M442 149h1v1h-1z M444 150h1v11h-1z M443 152h1v1h-1z M445 152h1v1h-1z M447 144h1v28h-1z M446 152h1v1h-1z M448 169h1v1h-1z M449 166h1v10h-1z M448 169h1v1h-1z M450 174h1v1h-1z M452 145h1v19h-1z M451 163h1v1h-1z M453 145h1v1h-1z M454 122h1v20h-1z M453 141h1v1h-1z M455 122h1v1h-1z M457 118h1v6h-1z M456 121h1v1h-1z M458 118h1v1h-1z M460 110h1v9h-1z M459 118h1v1h-1z M461 112h1v1h-1z M462 100h1v11h-1z M461 110h1v1h-1z M463 106h1v1h-1z M465 104h1v6h-1z M464 107h1v1h-1z M466 108h1v1h-1z M467 103h1v17h-1z M466 109h1v1h-1z M468 117h1v1h-1z M470 111h1v6h-1z M469 116h1v1h-1z M471 111h1v1h-1z M473 104h1v6h-1z M472 109h1v1h-1z M474 107h1v1h-1z M475 104h1v6h-1z M474 107h1v1h-1z M476 109h1v1h-1z M478 106h1v11h-1z M477 107h1v1h-1z M479 106h1v1h-1z M481 103h1v6h-1z M480 105h1v1h-1z M482 104h1v1h-1z M483 102h1v6h-1z M482 104h1v1h-1z M484 107h1v1h-1z M486 100h1v8h-1z M485 107h1v1h-1z M487 100h1v1h-1z M488 88h1v11h-1z M487 98h1v1h-1z M489 90h1v1h-1z M491 85h1v7h-1z M490 90h1v1h-1z M492 85h1v1h-1z M494 85h1v3h-1z M493 85h1v1h-1z M495 85h1v1h-1z M496 85h1v11h-1z M495 85h1v1h-1z M497 88h1v1h-1z M499 88h1v4h-1z M498 90h1v1h-1z M500 89h1v1h-1z M501 88h1v4h-1z M500 89h1v1h-1z M502 88h1v1h-1z M503 87h1v6h-1z M502 87h1v1h-1z M504 87h1v1h-1z M506 77h1v8h-1z M505 83h1v1h-1z M507 78h1v1h-1z M508 78h1v5h-1z M507 78h1v1h-1z M509 80h1v1h-1z M511 80h1v22h-1z M510 80h1v1h-1z M512 92h1v1h-1z M514 81h1v12h-1z M513 90h1v1h-1z M515 88h1v1h-1z M516 87h1v5h-1z M515 88h1v1h-1z M517 91h1v1h-1z M519 93h1v15h-1z M518 93h1v1h-1z M520 107h1v1h-1z M522 86h1v20h-1z M521 105h1v1h-1z M523 86h1v1h-1z M524 66h1v20h-1z M523 85h1v1h-1z M525 69h1v1h-1z M527 65h1v11h-1z M526 69h1v1h-1z M528 70h1v1h-1z M529 68h1v8h-1z M528 70h1v1h-1z M530 70h1v1h-1z M532 68h1v8h-1z M531 70h1v1h-1z M533 71h1v1h-1z M535 61h1v11h-1z M534 71h1v1h-1z M536 61h1v1h-1z M537 60h1v15h-1z M536 61h1v1h-1z M538 74h1v1h-1z M540 75h1v19h-1z M539 78h1v1h-1z M541 92h1v1h-1z M542 81h1v11h-1z M541 81h1v1h-1z M543 89h1v1h-1z M545 84h1v20h-1z M544 88h1v1h-1z M546 92h1v1h-1z M548 87h1v7h-1z M547 89h1v1h-1z M549 92h1v1h-1z M550 75h1v15h-1z M549 89h1v1h-1z M551 76h1v1h-1z M553 66h1v10h-1z M552 75h1v1h-1z M554 70h1v1h-1z M556 64h1v12h-1z M555 70h1v1h-1z M557 75h1v1h-1z M558 78h1v15h-1z M557 78h1v1h-1z M559 80h1v1h-1z M561 72h1v10h-1z M560 80h1v1h-1z M562 73h1v1h-1z M564 65h1v14h-1z M563 73h1v1h-1z M565 74h1v1h-1z M566 71h1v9h-1z M565 74h1v1h-1z M567 72h1v1h-1z M569 66h1v6h-1z M568 71h1v1h-1z M570 67h1v1h-1z M571 56h1v11h-1z M570 66h1v1h-1z M572 56h1v1h-1z M574 47h1v11h-1z M573 57h1v1h-1z M575 48h1v1h-1z M576 43h1v6h-1z M575 48h1v1h-1z M577 48h1v1h-1z M579 48h1v12h-1z M578 48h1v1h-1z M580 51h1v1h-1z M582 45h1v13h-1z M581 54h1v1h-1z M583 46h1v1h-1z M584 39h1v5h-1z M583 43h1v1h-1z M585 41h1v1h-1z M587 40h1v5h-1z M586 43h1v1h-1z M588 43h1v1h-1z M590 40h1v7h-1z M589 43h1v1h-1z M591 43h1v1h-1z M592 42h1v12h-1z M591 43h1v1h-1z M593 49h1v1h-1z M595 48h1v10h-1z M594 49h1v1h-1z M596 49h1v1h-1z M597 49h1v17h-1z M596 49h1v1h-1z M598 65h1v1h-1z M600 66h1v17h-1z M599 66h1v1h-1z M601 69h1v1h-1z M603 72h1v18h-1z M602 72h1v1h-1z M604 86h1v1h-1z M605 90h1v10h-1z M604 90h1v1h-1z M606 95h1v1h-1z M608 80h1v16h-1z M607 95h1v1h-1z M609 80h1v1h-1z M610 69h1v13h-1z M609 80h1v1h-1z M611 70h1v1h-1z M613 56h1v16h-1z M612 68h1v1h-1z M614 69h1v1h-1z M616 74h1v16h-1z M615 75h1v1h-1z M617 80h1v1h-1z M618 75h1v9h-1z M617 80h1v1h-1z M619 80h1v1h-1z M621 72h1v14h-1z M620 80h1v1h-1z M622 84h1v1h-1z M624 73h1v18h-1z M623 85h1v1h-1z M625 74h1v1h-1z M626 74h1v9h-1z M625 74h1v1h-1z M627 75h1v1h-1z M629 62h1v13h-1z M628 74h1v1h-1z M630 71h1v1h-1z M631 72h1v15h-1z M630 73h1v1h-1z M632 84h1v1h-1z M634 88h1v10h-1z M633 88h1v1h-1z M635 97h1v1h-1z M637 102h1v14h-1z M636 106h1v1h-1z M638 115h1v1h-1z M640 126h1v36h-1z M639 126h1v1h-1z M641 131h1v1h-1z M642 115h1v25h-1z M641 131h1v1h-1z M643 139h1v1h-1z M644 119h1v20h-1z M643 138h1v1h-1z M645 123h1v1h-1z M647 106h1v14h-1z M646 119h1v1h-1z M648 112h1v1h-1z M650 93h1v11h-1z M649 103h1v1h-1z M651 97h1v1h-1z" fill="#000"/>
<rect x="0" y="0" width="680" height="1" fill="#000"/>
<rect x="679" y="0" width="1" height="469" fill="#000"/>
<rect x="0" y="468" width="680" height="1" fill="#000"/>
<rect x="680" y="455" width="3" height="1" fill="#000"/>
<rect x="680" y="442" width="7" height="1" fill="#000"/>
<rect x="680" y="428" width="3" height="1" fill="#000"/>
<rect x="680" y="414" width="3" height="1" fill="#000"/>
<rect x="680" y="401" width="3" height="1" fill="#000"/>
<rect x="680" y="388" width="3" height="1" fill="#000"/>
<rect x="680" y="375" width="7" height="1" fill="#000"/>
<rect x="680" y="363" width="3" height="1" fill="#000"/>
<rect x="680" y="350" width="3" height="1" fill="#000"/>
<rect x="680" y="337" width="3" height="1" fill="#000"/>
<rect x="680" y="325" width="3" height="1" fill="#000"/>
<rect x="680" y="313" width="7" height="1" fill="#000"/>
<rect x="680" y="301" width="3" height="1" fill="#000"/>
<rect x="680" y="289" width="3" height="1" fill="#000"/>
<rect x="680" y="277" width="3" height="1" fill="#000"/>
<rect x="680" y="266" width="3" height="1" fill="#000"/>
<rect x="680" y="255" width="7" height="1" fill="#000"/>
<rect x="680" y="243" width="3" height="1" fill="#000"/>
<rect x="680" y="232" width="3" height="1" fill="#000"/>
<rect x="680" y="221" width="3" height="1" fill="#000"/>
<rect x="680" y="210" width="3" height="1" fill="#000"/>
<rect x="680" y="200" width="7" height="1" fill="#000"/>
<rect x="680" y="189" width="3" height="1" fill="#000"/>
<rect x="680" y="178" width="3" height="1" fill="#000"/>
<rect x="680" y="168" width="3" height="1" fill="#000"/>
<rect x="680" y="158" width="3" height="1" fill="#000"/>
<rect x="680" y="147" width="7" height="1" fill="#000"/>
<rect x="680" y="137" width="3" height="1" fill="#000"/>
<rect x="680" y="127" width="3" height="1" fill="#000"/>
<rect x="680" y="117" width="3" height="1" fill="#000"/>
<rect x="680" y="107" width="3" height="1" fill="#000"/>
<rect x="680" y="98" width="7" height="1" fill="#000"/>
<rect x="680" y="88" width="3" height="1" fill="#000"/>
<rect x="680" y="79" width="3" height="1" fill="#000"/>
<rect x="680" y="70" width="3" height="1" fill="#000"/>
<rect x="680" y="60" width="3" height="1" fill="#000"/>
<rect x="680" y="51" width="7" height="1" fill="#000"/>
<rect x="680" y="42" width="3" height="1" fill="#000"/>
<rect x="680" y="33" width="3" height="1" fill="#000"/>
<rect x="680" y="24" width="3" height="1" fill="#000"/>
<rect x="680" y="15" width="3" height="1" fill="#000"/>
<rect x="680" y="6" width="7" height="1" fill="#000"/>
<rect x="3" y="469" width="1" height="16" fill="#000"/>
<rect x="56" y="469" width="1" height="16" fill="#000"/>
<rect x="111" y="469" width="1" height="16" fill="#000"/>
<rect x="167" y="469" width="1" height="16" fill="#000"/>
<rect x="225" y="469" width="1" height="16" fill="#000"/>
<rect x="283" y="469" width="1" height="16" fill="#000"/>
<rect x="339" y="469" width="1" height="16" fill="#000"/>
<rect x="394" y="469" width="1" height="16" fill="#000"/>
<rect x="452" y="469" width="1" height="16" fill="#000"/>
<rect x="506" y="469" width="1" height="16" fill="#000"/>
<rect x="561" y="469" width="1" height="16" fill="#000"/>
<rect x="613" y="469" width="1" height="16" fill="#000"/>
<rect x="672" y="469" width="1" height="16" fill="#000"/>
<rect x="6" y="469" width="1" height="5" fill="#000"/>
<rect x="17" y="469" width="1" height="5" fill="#000"/>
<rect x="30" y="469" width="1" height="5" fill="#000"/>
<rect x="43" y="469" width="1" height="5" fill="#000"/>
<rect x="69" y="469" width="1" height="5" fill="#000"/>
<rect x="82" y="469" width="1" height="5" fill="#000"/>
<rect x="95" y="469" width="1" height="5" fill="#000"/>
<rect x="108" y="469" width="1" height="5" fill="#000"/>
<rect x="121" y="469" width="1" height="5" fill="#000"/>
<rect x="134" y="469" width="1" height="5" fill="#000"/>
<rect x="147" y="469" width="1" height="5" fill="#000"/>
<rect x="160" y="469" width="1" height="5" fill="#000"/>
<rect x="173" y="469" width="1" height="5" fill="#000"/>
<rect x="186" y="469" width="1" height="5" fill="#000"/>
<rect x="199" y="469" width="1" height="5" fill="#000"/>
<rect x="212" y="469" width="1" height="5" fill="#000"/>
<rect x="238" y="469" width="1" height="5" fill="#000"/>
<rect x="251" y="469" width="1" height="5" fill="#000"/>
<rect x="264" y="469" width="1" height="5" fill="#000"/>
<rect x="277" y="469" width="1" height="5" fill="#000"/>
<rect x="290" y="469" width="1" height="5" fill="#000"/>
<rect x="303" y="469" width="1" height="5" fill="#000"/>
<rect x="317" y="469" width="1" height="5" fill="#000"/>
<rect x="330" y="469" width="1" height="5" fill="#000"/>
<rect x="342" y="469" width="1" height="5" fill="#000"/>
<rect x="355" y="469" width="1" height="5" fill="#000"/>
<rect x="368" y="469" width="1" height="5" fill="#000"/>
<rect x="381" y="469" width="1" height="5" fill="#000"/>
<rect x="407" y="469" width="1" height="5" fill="#000"/>
<rect x="420" y="469" width="1" height="5" fill="#000"/>
<rect x="433" y="469" width="1" height="5" fill="#000"/>
<rect x="447" y="469" width="1" height="5" fill="#000"/>
<rect x="460" y="469" width="1" height="5" fill="#000"/>
<rect x="473" y="469" width="1" height="5" fill="#000"/>
<rect x="486" y="469" width="1" height="5" fill="#000"/>
<rect x="496" y="469" width="1" height="5" fill="#000"/>
<rect x="519" y="469" width="1" height="5" fill="#000"/>
<rect x="532" y="469" width="1" height="5" fill="#000"/>
<rect x="545" y="469" width="1" height="5" fill="#000"/>
<rect x="558" y="469" width="1" height="5" fill="#000"/>
<rect x="571" y="469" width="1" height="5" fill="#000"/>
<rect x="584" y="469" width="1" height="5" fill="#000"/>
<rect x="597" y="469" width="1" height="5" fill="#000"/>
<rect x="610" y="469" width="1" height="5" fill="#000"/>
<rect x="624" y="469" width="1" height="5" fill="#000"/>
<rect x="637" y="469" width="1" height="5" fill="#000"/>
<rect x="650" y="469" width="1" height="5" fill="#000"/>
<rect x="663" y="469" width="1" height="5" fill="#000"/>
<rect x="675" y="469" width="1" height="5" fill="#000"/>
</g>
<text x="720.8" y="447" class="ax" text-anchor="end">7000</text>
<text x="720.8" y="380" class="ax" text-anchor="end">7500</text>
<text x="720.8" y="318" class="ax" text-anchor="end">8000</text>
<text x="720.8" y="260" class="ax" text-anchor="end">8500</text>
<text x="720.8" y="205" class="ax" text-anchor="end">9000</text>
<text x="720.8" y="152" class="ax" text-anchor="end">9500</text>
<text x="720.8" y="102" class="ax" text-anchor="end">10000</text>
<text x="720.8" y="56" class="ax" text-anchor="end">10500</text>
<text x="720.8" y="11" class="ax" text-anchor="end">11000</text>
<text x="5" y="483" class="ax mo" clip-path="url(#cx)">April</text>
<text x="58" y="483" class="ax mo" clip-path="url(#cx)">May</text>
<text x="113" y="483" class="ax mo" clip-path="url(#cx)">June</text>
<text x="169" y="483" class="ax mo" clip-path="url(#cx)">July</text>
<text x="227" y="483" class="ax mo" clip-path="url(#cx)">August</text>
<text x="285" y="483" class="ax mo" clip-path="url(#cx)">September</text>
<text x="341" y="483" class="ax mo" clip-path="url(#cx)">October</text>
<text x="396" y="483" class="ax mo" clip-path="url(#cx)">November</text>
<text x="454" y="483" class="ax mo" clip-path="url(#cx)">December</text>
<text x="508" y="483" class="ax mo" clip-path="url(#cx)">2011</text>
<text x="563" y="483" class="ax mo" clip-path="url(#cx)">February</text>
<text x="615" y="483" class="ax mo" clip-path="url(#cx)">March</text>
<text x="674" y="483" class="ax mo" clip-path="url(#cx)">A</text>
<text x="10" y="24" class="gr">www.chartbuero.de</text>
<text x="313.7 328.7 341.7" y="26" class="ti">MDA</text><text class="ti" transform="translate(353.8,26) scale(0.85,1)">X</text>
<text x="549.2" y="448" class="gr">Hoppenstedt Charts</text>
</svg>
</body></html>
